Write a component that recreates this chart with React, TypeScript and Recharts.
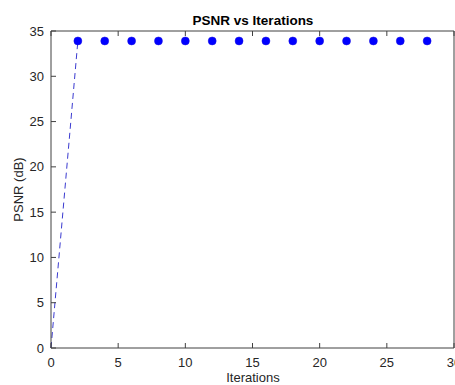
import React from 'react';
import { ComposedChart, Line, Scatter, XAxis, YAxis } from 'recharts';

const iterations = [0, 2, 4, 6, 8, 10, 12, 14, 16, 18, 20, 22, 24, 26, 28];
const psnr = [0, 33.9, 33.9, 33.9, 33.9, 33.9, 33.9, 33.9, 33.9, 33.9, 33.9, 33.9, 33.9, 33.9, 33.9];
const xTicks = [0, 5, 10, 15, 20, 25, 30];
const yTicks = [0, 5, 10, 15, 20, 25, 30, 35];
const title = 'PSNR vs Iterations';
const xLabel = 'Iterations';
const yLabel = 'PSNR (dB)';

const data = iterations.map((it, i) => ({
  iter: it,
  line: i < 2 ? psnr[i] : undefined,
  marker: i > 0 ? psnr[i] : undefined,
}));

const FONT = '"Liberation Sans", Arial, Helvetica, sans-serif';
const AXIS = '#404040';
const TEXT = '#262626';
const TL = 5;

const BottomTick = (p: any) => (
  <g>
    <line x1={p.x} x2={p.x} y1={p.y - 10} y2={p.y - 10 - TL} stroke={AXIS} strokeWidth={1} />
    <text x={p.x} y={p.y} dy="0.71em" textAnchor="middle" fill={TEXT} fontSize={13} fontFamily={FONT}>
      {p.payload.value}
    </text>
  </g>
);

const LeftTick = (p: any) => (
  <g>
    <line x1={p.x + 7} x2={p.x + 7 + TL} y1={p.y} y2={p.y} stroke={AXIS} strokeWidth={1} />
    <text x={p.x} y={p.y} dy="0.355em" textAnchor="end" fill={TEXT} fontSize={13} fontFamily={FONT}>
      {p.payload.value}
    </text>
  </g>
);

const TopTick = (p: any) => (
  <line x1={p.x} x2={p.x} y1={p.y} y2={p.y + TL} stroke={AXIS} strokeWidth={1} />
);

const RightTick = (p: any) => (
  <line x1={p.x} x2={p.x - TL} y1={p.y} y2={p.y} stroke={AXIS} strokeWidth={1} />
);

const Dot = (p: any) => {
  if (p.cx == null || p.cy == null || p.payload?.marker == null) return <g />;
  return <circle cx={p.cx} cy={p.cy} r={4} fill="#0000ff" stroke="#1a10e0" strokeWidth={0.5} />;
};

export default function App() {
  return (
    <div style={{ position: 'absolute', left: 0, top: 0, width: 455, height: 385, background: '#fff' }}>
      <ComposedChart
        width={455}
        height={385}
        data={data}
        margin={{ top: 30, right: 0, bottom: 0, left: 0 }}
      >
        <XAxis
          xAxisId="b"
          dataKey="iter"
          type="number"
          domain={[0, 30]}
          ticks={xTicks}
          orientation="bottom"
          height={37}
          tickSize={0}
          tickMargin={10}
          tickLine={false}
          axisLine={{ stroke: AXIS, strokeWidth: 1 }}
          tick={<BottomTick />}
          interval={0}
        />
        <XAxis
          xAxisId="t"
          dataKey="iter"
          type="number"
          domain={[0, 30]}
          ticks={xTicks}
          orientation="top"
          height={1}
          tickSize={0}
          tickMargin={0}
          tickLine={false}
          axisLine={{ stroke: AXIS, strokeWidth: 1 }}
          tick={<TopTick />}
          interval={0}
        />
        <YAxis
          yAxisId="l"
          type="number"
          domain={[0, 35]}
          ticks={yTicks}
          width={51}
          tickSize={0}
          tickMargin={7}
          tickLine={false}
          axisLine={{ stroke: AXIS, strokeWidth: 1 }}
          tick={<LeftTick />}
          interval={0}
        />
        <YAxis
          yAxisId="r"
          orientation="right"
          type="number"
          domain={[0, 35]}
          ticks={yTicks}
          width={1}
          tickSize={0}
          tickMargin={0}
          tickLine={false}
          axisLine={{ stroke: AXIS, strokeWidth: 1 }}
          tick={<RightTick />}
          interval={0}
        />
        <Line
          xAxisId="b"
          yAxisId="l"
          dataKey="line"
          stroke="#3a3ad0"
          strokeWidth={1}
          strokeDasharray="6 4"
          dot={false}
          activeDot={false}
          connectNulls={false}
          isAnimationActive={false}
        />
        <Scatter
          xAxisId="b"
          yAxisId="l"
          dataKey="marker"
          shape={<Dot />}
          isAnimationActive={false}
        />
      </ComposedChart>
      <svg
        width={455}
        height={385}
        style={{ position: 'absolute', left: 0, top: 0, pointerEvents: 'none' }}
      >
        <text x={253} y={24.5} textAnchor="middle" fontSize={13.5} fontWeight="bold" fill="#000" fontFamily={FONT}>
          {title}
        </text>
        <text x={253} y={381.5} textAnchor="middle" fontSize={13} fill={TEXT} fontFamily={FONT}>
          {xLabel}
        </text>
        <text
          x={0}
          y={0}
          transform="translate(22.5,189.5) rotate(-90)"
          textAnchor="middle"
          fontSize={13}
          fill={TEXT}
          fontFamily={FONT}
        >
          {yLabel}
        </text>
      </svg>
    </div>
  );
}
